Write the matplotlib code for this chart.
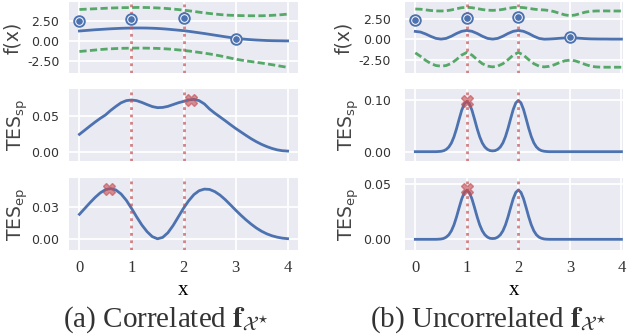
import numpy as np
import matplotlib
matplotlib.use("Agg")
import matplotlib.pyplot as plt

# ---- data ----
# coarse grid (step 0.1) for the GP panels and the correlated TES curves
x_coarse = np.linspace(0, 4, 41)
# fine grid (step 0.05) for the narrow uncorrelated TES peaks
x_fine = np.linspace(0, 4, 81)

obs_x = [0, 1, 2, 3]
obs_y = [2.47, 2.72, 2.82, 0.28]
query_x = [1, 2]

# (a) correlated
corr_mean = [1.22, 1.27, 1.32, 1.37, 1.41, 1.45, 1.49, 1.52, 1.55, 1.57,
             1.58, 1.59, 1.59, 1.58, 1.56, 1.53, 1.49, 1.44, 1.38, 1.32,
             1.26, 1.18, 1.09, 1.00, 0.91, 0.81, 0.71, 0.61, 0.51, 0.42,
             0.33, 0.26, 0.20, 0.15, 0.11, 0.08, 0.05, 0.03, 0.02, 0.01, 0.00]
corr_upper = [3.86, 3.89, 3.92, 3.95, 3.98, 4.01, 4.04, 4.06, 4.08, 4.09,
              4.10, 4.11, 4.11, 4.10, 4.08, 4.05, 4.02, 3.97, 3.91, 3.85,
              3.78, 3.70, 3.62, 3.53, 3.45, 3.37, 3.30, 3.24, 3.18, 3.15,
              3.13, 3.11, 3.10, 3.09, 3.09, 3.09, 3.11, 3.14, 3.18, 3.23, 3.29]
corr_lower = [-1.30, -1.24, -1.18, -1.12, -1.06, -1.01, -0.97, -0.94, -0.91, -0.90,
              -0.89, -0.88, -0.88, -0.89, -0.90, -0.92, -0.95, -0.99, -1.04, -1.10,
              -1.17, -1.24, -1.32, -1.41, -1.50, -1.60, -1.71, -1.83, -1.96, -2.10,
              -2.24, -2.35, -2.45, -2.54, -2.63, -2.72, -2.82, -2.92, -3.03, -3.14, -3.25]
corr_sp = [0.0243, 0.0300, 0.0358, 0.0414, 0.0467, 0.0514, 0.0578, 0.0634, 0.0685, 0.0715,
           0.0724, 0.0715, 0.0690, 0.0660, 0.0632, 0.0617, 0.0620, 0.0635, 0.0660, 0.0685,
           0.0705, 0.0725, 0.0733, 0.0715, 0.0670, 0.0598, 0.0540, 0.0488, 0.0435, 0.0380,
           0.0327, 0.0278, 0.0229, 0.0182, 0.0140, 0.0103, 0.0072, 0.0046, 0.0026, 0.0014, 0.0009]
corr_ep = [0.0229, 0.0282, 0.0335, 0.0385, 0.0428, 0.0458, 0.0468, 0.0455, 0.0418, 0.0360,
           0.0285, 0.0205, 0.0130, 0.0068, 0.0022, 0.0002, 0.0015, 0.0058, 0.0125, 0.0205,
           0.0285, 0.0355, 0.0412, 0.0448, 0.0463, 0.0460, 0.0440, 0.0408, 0.0366, 0.0318,
           0.0269, 0.0222, 0.0178, 0.0138, 0.0102, 0.0072, 0.0048, 0.0030, 0.0017, 0.0008, 0.0003]
corr_sp_best = (2.15, 0.0728)
corr_ep_best = (0.57, 0.0468)

# (b) uncorrelated
unc_mean = [1.00, 0.92, 0.68, 0.38, 0.13, 0.04, 0.13, 0.40, 0.74, 1.01,
            1.12, 1.01, 0.74, 0.40, 0.13, 0.04, 0.13, 0.40, 0.74, 1.01,
            1.12, 1.01, 0.74, 0.40, 0.13, 0.03, 0.05, 0.09, 0.14, 0.18,
            0.20, 0.18, 0.14, 0.10, 0.07, 0.06, 0.05, 0.05, 0.04, 0.04, 0.04]
unc_upper = [3.79, 3.76, 3.68, 3.60, 3.55, 3.54, 3.57, 3.67, 3.82, 3.95,
             4.00, 3.95, 3.84, 3.72, 3.64, 3.62, 3.65, 3.74, 3.87, 3.97,
             4.00, 3.96, 3.87, 3.77, 3.70, 3.67, 3.60, 3.45, 3.25, 3.06,
             2.96, 3.04, 3.22, 3.40, 3.50, 3.54, 3.55, 3.55, 3.54, 3.54, 3.54]
unc_lower = [-1.67, -2.10, -2.60, -3.00, -3.25, -3.33, -3.25, -2.98, -2.50, -1.95,
             -1.62, -1.95, -2.52, -3.02, -3.32, -3.42, -3.32, -3.02, -2.52, -1.95,
             -1.62, -1.95, -2.52, -3.02, -3.32, -3.42, -3.35, -3.15, -2.88, -2.66,
             -2.58, -2.66, -2.88, -3.12, -3.32, -3.42, -3.45, -3.46, -3.46, -3.46, -3.46]
unc_sp = [0.0, 0.0, 0.0, 0.0, 0.0, 0.0, 0.0, 0.0, 0.0, 0.0003,
          0.0007, 0.0018, 0.0043, 0.0089, 0.0167, 0.0286, 0.0444, 0.0625, 0.0798, 0.0923,
          0.0970, 0.0923, 0.0798, 0.0625, 0.0444, 0.0286, 0.0167, 0.0089, 0.0044, 0.0021,
          0.0015, 0.0021, 0.0045, 0.0091, 0.0170, 0.0292, 0.0453, 0.0638, 0.0815, 0.0942,
          0.0990, 0.0942, 0.0815, 0.0638, 0.0453, 0.0292, 0.0170, 0.0091, 0.0044, 0.0019,
          0.0008, 0.0003, 0.0, 0.0, 0.0, 0.0, 0.0, 0.0, 0.0, 0.0,
          0.0, 0.0, 0.0, 0.0, 0.0, 0.0, 0.0, 0.0, 0.0, 0.0,
          0.0, 0.0, 0.0, 0.0, 0.0, 0.0, 0.0, 0.0, 0.0, 0.0, 0.0]
unc_ep = [0.0, 0.0, 0.0, 0.0, 0.0, 0.0, 0.0, 0.0, 0.0, 0.0001,
          0.0003, 0.0008, 0.0020, 0.0041, 0.0077, 0.0131, 0.0204, 0.0287, 0.0366, 0.0424,
          0.0445, 0.0424, 0.0366, 0.0287, 0.0204, 0.0131, 0.0077, 0.0041, 0.0020, 0.0009,
          0.0007, 0.0009, 0.0020, 0.0041, 0.0077, 0.0132, 0.0205, 0.0289, 0.0369, 0.0426,
          0.0448, 0.0426, 0.0369, 0.0289, 0.0205, 0.0132, 0.0077, 0.0041, 0.0020, 0.0009,
          0.0003, 0.0001, 0.0, 0.0, 0.0, 0.0, 0.0, 0.0, 0.0, 0.0,
          0.0, 0.0, 0.0, 0.0, 0.0, 0.0, 0.0, 0.0, 0.0, 0.0,
          0.0, 0.0, 0.0, 0.0, 0.0, 0.0, 0.0, 0.0, 0.0, 0.0, 0.0]
unc_sp_best = (1.0, 0.0985)
unc_ep_best = (1.0, 0.046)

# ---- style ----
BLUE = "#4C72B0"
GREEN = "#55A868"
RED = "#C44E52"
TXT = "#333333"
plt.rcParams["font.family"] = "DejaVu Sans"
plt.rcParams["text.color"] = TXT

W, H = 634, 336
fig = plt.figure(figsize=(W / 100, H / 100), dpi=100)


def make_axes(x0, x1, y0, y1):
    ax = fig.add_axes([x0 / W, 1 - y1 / H, (x1 - x0) / W, (y1 - y0) / H])
    ax.set_facecolor("#EAEAF2")
    for s in ax.spines.values():
        s.set_visible(False)
    ax.grid(True, color="white", linewidth=1.3)
    ax.set_axisbelow(True)
    ax.tick_params(length=0, colors=TXT)
    ax.set_xticks([0, 1, 2, 3, 4])
    return ax


rows = [(2, 73), (89, 161), (178, 250)]
# left px, right px, xlim, tick pad, ylabel x for f(x) and for TES (axes fraction)
cols = [(69, 298, (-0.2, 4.2), 9, -0.205, -0.172),
        (405, 623, (-0.2, 4.03), 12, -0.240, -0.200)]

panels = [
    dict(mean=corr_mean, upper=corr_upper, lower=corr_lower, sp=corr_sp, ep=corr_ep,
         xsp=x_coarse, sp_best=corr_sp_best, ep_best=corr_ep_best,
         ylims=[(-3.94, 4.78), (-0.013, 0.0878), (-0.0102, 0.0566)],
         yticks=[[-2.5, 0, 2.5], [0, 0.05], [0, 0.03]],
         caption=r"(a) Correlated $\mathbf{f}_{\mathcal{X}^{\star}}$", cap_x=166),
    dict(mean=unc_mean, upper=unc_upper, lower=unc_lower, sp=unc_sp, ep=unc_ep,
         xsp=x_fine, sp_best=unc_sp_best, ep_best=unc_ep_best,
         ylims=[(-4.18, 4.66), (-0.018, 0.121), (-0.0097, 0.0557)],
         yticks=[[-2.5, 0, 2.5], [0, 0.1], [0, 0.05]],
         caption=r"(b) Uncorrelated $\mathbf{f}_{\mathcal{X}^{\star}}$", cap_x=488),
]
ylabels = ["f(x)", r"TES$_{\mathrm{sp}}$", r"TES$_{\mathrm{ep}}$"]

for (x0, x1, xlim, pad, lx_f, lx_tes), p in zip(cols, panels):
    axes = [make_axes(x0, x1, y0, y1) for (y0, y1) in rows]

    # GP posterior
    ax = axes[0]
    ax.plot(x_coarse, p["upper"], color=GREEN, lw=2, dashes=(2.6, 1.2))
    ax.plot(x_coarse, p["lower"], color=GREEN, lw=2, dashes=(2.6, 1.2))
    ax.plot(x_coarse, p["mean"], color=BLUE, lw=2)
    ax.plot(obs_x, obs_y, "o", ms=8, mfc=BLUE, mec=BLUE, zorder=4)
    ax.plot(obs_x, obs_y, "o", ms=5.5, mfc=BLUE, mec="white", mew=0.7, zorder=5)

    # TES curves
    axes[1].plot(p["xsp"], p["sp"], color=BLUE, lw=2)
    axes[1].plot(*p["sp_best"], "X", ms=8, mfc=RED, mec=RED, alpha=0.6, zorder=5)
    axes[2].plot(p["xsp"], p["ep"], color=BLUE, lw=2)
    axes[2].plot(*p["ep_best"], "X", ms=8, mfc=RED, mec=RED, alpha=0.6, zorder=5)

    for i, ax in enumerate(axes):
        for q in query_x:
            ax.axvline(q, color=RED, lw=2, ls=":", alpha=0.7, zorder=3)
        ax.set_xlim(*xlim)
        ax.set_ylim(*p["ylims"][i])
        ax.set_yticks(p["yticks"][i])
        ax.set_yticklabels(["%.2f" % v for v in p["yticks"][i]], fontsize=9)
        ax.tick_params(axis="y", pad=pad - 2)
        ax.set_ylabel(ylabels[i], fontsize=13.5, color="#444444")
        ax.yaxis.set_label_coords(lx_f if i == 0 else lx_tes, 0.5)
        if i < 2:
            ax.tick_params(axis="x", labelbottom=False)

    axes[2].set_xticklabels(["0", "1", "2", "3", "4"], family="Liberation Serif", fontsize=12)
    axes[2].tick_params(axis="x", pad=7)
    axes[2].set_xlabel("x", family="Liberation Serif", fontsize=15, labelpad=4)

    fig.text(p["cap_x"] / W, 1 - 320 / H, p["caption"], ha="center", va="center",
             fontsize=21, family="Liberation Serif", math_fontfamily="stix")

fig.savefig("out.png", dpi=100)
